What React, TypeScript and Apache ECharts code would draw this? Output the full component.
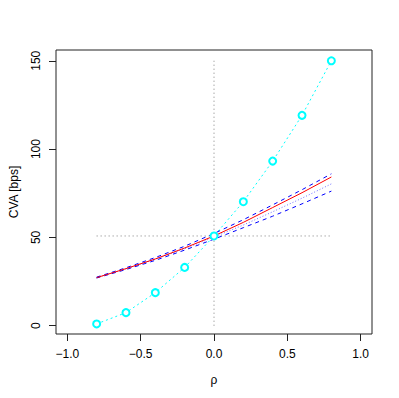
import React, { useEffect, useRef } from "react";
import * as echarts from "echarts";

const rho = [-0.8, -0.6, -0.4, -0.2, 0, 0.2, 0.4, 0.6, 0.8];
const cvaCyan = [1.0, 7.4, 18.7, 33.0, 50.8, 70.2, 93.2, 119.1, 150.0];
const cvaRed = [27.2, 32.3, 37.8, 44.0, 50.8, 58.5, 66.9, 75.3, 84.2];
const cvaBlueUpper = [27.5, 32.8, 38.6, 45.0, 52.2, 60.0, 68.4, 77.0, 86.0];
const cvaBlueLower = [27.0, 31.8, 37.0, 42.8, 49.0, 55.5, 62.0, 69.0, 76.2];
const cvaBlueDotted = [27.2, 32.2, 37.6, 43.6, 50.2, 57.0, 64.5, 72.2, 80.3];
const refLevel = 50.8;
const refVertical = [0, 150];
const xTicks = [-1, -0.5, 0, 0.5, 1];
const yTicks = [0, 50, 100, 150];

const pts = (ys: number[]) => rho.map((x, i) => [x, ys[i]]);

export default function App() {
  const ref = useRef<HTMLDivElement>(null);
  useEffect(() => {
    const chart = echarts.init(ref.current!, null, { renderer: "svg" });
    const font = "Liberation Sans, Arial, sans-serif";
    const line = (data: number[][], color: string, type: any, width = 1, extra: any = {}) => ({
      type: "line",
      data,
      symbol: "none",
      silent: true,
      lineStyle: { color, type, width },
      ...extra,
    });
    chart.setOption({
      animation: false,
      grid: {
        left: 51,
        right: 27,
        top: 50,
        bottom: 64,
        show: true,
        borderColor: "#222",
        borderWidth: 1,
        backgroundColor: "transparent",
      },
      xAxis: {
        type: "value",
        min: -1.077,
        max: 1.077,
        name: "ρ",
        nameLocation: "middle",
        nameGap: 40,
        nameTextStyle: { color: "#000", fontFamily: font, fontSize: 12 },
        axisLine: { show: false, onZero: false },
        splitLine: { show: false },
        axisTick: {
          show: true,
          customValues: xTicks,
          length: 7,
          lineStyle: { color: "#222" },
        },
        axisLabel: {
          customValues: xTicks,
          formatter: (v: number) => v.toFixed(1).replace("-", "\u2212"),
          color: "#000",
          fontFamily: font,
          fontSize: 12,
          margin: 14,
        },
      },
      yAxis: {
        type: "value",
        min: -4.7,
        max: 156.1,
        name: "CVA [bps]",
        nameLocation: "middle",
        nameGap: 36,
        nameRotate: 90,
        nameTextStyle: { color: "#000", fontFamily: font, fontSize: 12 },
        axisLine: { show: false, onZero: false },
        splitLine: { show: false },
        axisTick: {
          show: true,
          customValues: yTicks,
          length: 7,
          lineStyle: { color: "#222" },
        },
        axisLabel: {
          customValues: yTicks,
          rotate: 90,
          color: "#000",
          fontFamily: font,
          fontSize: 12,
          margin: 14,
        },
      },
      series: [
        line([[rho[0], refLevel], [rho[rho.length - 1], refLevel]], "#808080", [1, 3]),
        line([[0, refVertical[0]], [0, refVertical[1]]], "#808080", [1, 3]),
        {
          type: "line",
          data: pts(cvaCyan),
          symbol: "emptyCircle",
          symbolSize: 7,
          silent: true,
          lineStyle: { color: "#00FFFF", type: [2, 3], width: 1 },
          itemStyle: { color: "#00FFFF", borderColor: "#00FFFF", borderWidth: 1 },
        },
        line(pts(cvaBlueDotted), "#7070ff", [1, 2]),
        line(pts(cvaBlueUpper), "#0000FF", [4, 4]),
        line(pts(cvaBlueLower), "#0000FF", [4, 4]),
        line(pts(cvaRed), "#FF0000", "solid"),
      ],
    });
    return () => chart.dispose();
  }, []);
  return <div ref={ref} style={{ width: 399, height: 398, margin: -8 }} />;
}
